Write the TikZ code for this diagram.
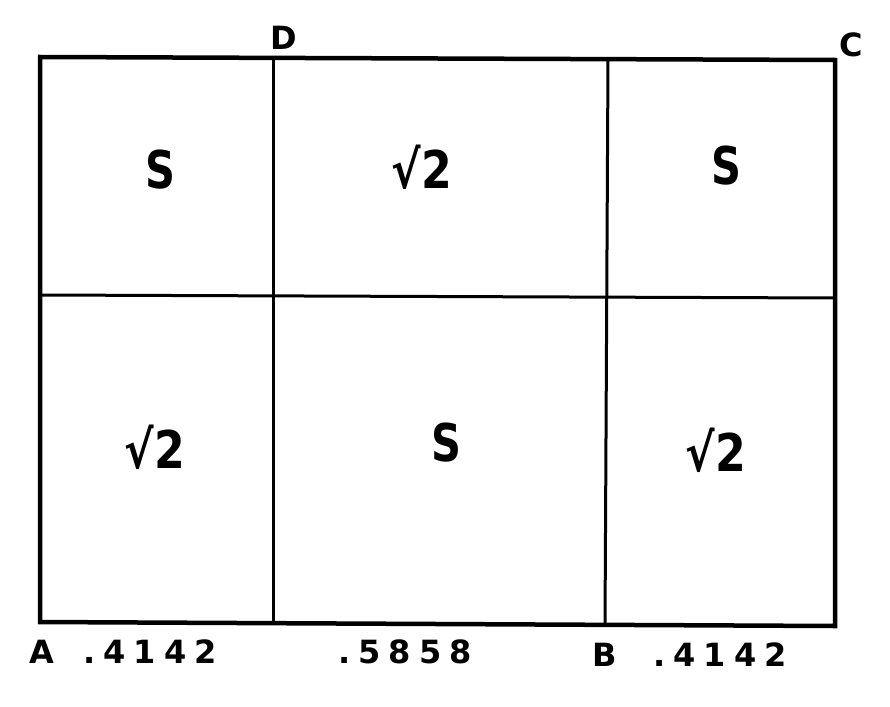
\documentclass[tikz,border=0pt]{standalone}
\usepackage{fontspec}
\setmainfont{DejaVu Sans}
\begin{document}
\begin{tikzpicture}[x=1pt,y=-1pt,
  big/.style={font=\fontsize{52}{52}\selectfont\bfseries, inner sep=0pt},
  lab/.style={font=\fontsize{32}{32}\selectfont\bfseries\addfontfeature{LetterSpace=25}, inner sep=0pt},
  outer/.style={line width=4.5pt, line join=miter},
  inner/.style={line width=3pt}]
\useasboundingbox (0,0) rectangle (890,706);
% corners
\coordinate (A) at (40,622);
\coordinate (D0) at (40,57);
\coordinate (C0) at (835,60);
\coordinate (B0) at (835,626);
\draw[outer] (A) -- (D0) -- (C0) -- (B0) -- cycle;
% vertical dividers
\coordinate (Dt) at (273,57);
\coordinate (Db) at (273,623);
\coordinate (Bt) at (608,59);
\coordinate (Bb) at (605,625);
\draw[inner] (Dt) -- (Db);
\draw[inner] (Bt) -- (Bb);
% horizontal divider
\coordinate (Ml) at (40,295);
\coordinate (Mr) at (835,298);
\draw[inner] (Ml) -- (Mr);
% cell labels
\node[big,xscale=0.8] (s1) at (160,170) {S};
\node[big,xscale=0.85] (r1) at (422,167) {√2};
\node[big,xscale=0.8] (s2) at (726,166) {S};
\node[big,xscale=0.85] (r2) at (155,447) {√2};
\node[big,xscale=0.8] (s3) at (446,443) {S};
\node[big,xscale=0.85] (r3) at (716,450) {√2};
% corner labels
\node[lab] (lD) at (284,38) {D};
\node[lab] (lC) at (851,45) {C};
\node[lab] (lA) at (42,652) {A};
\node[lab] (n1) at (150,652) {.4142};
\node[lab] (n2) at (405,652) {.5858};
\node[lab] (lB) at (605,655) {B};
\node[lab] (n3) at (720,655) {.4142};
\end{tikzpicture}
\end{document}
